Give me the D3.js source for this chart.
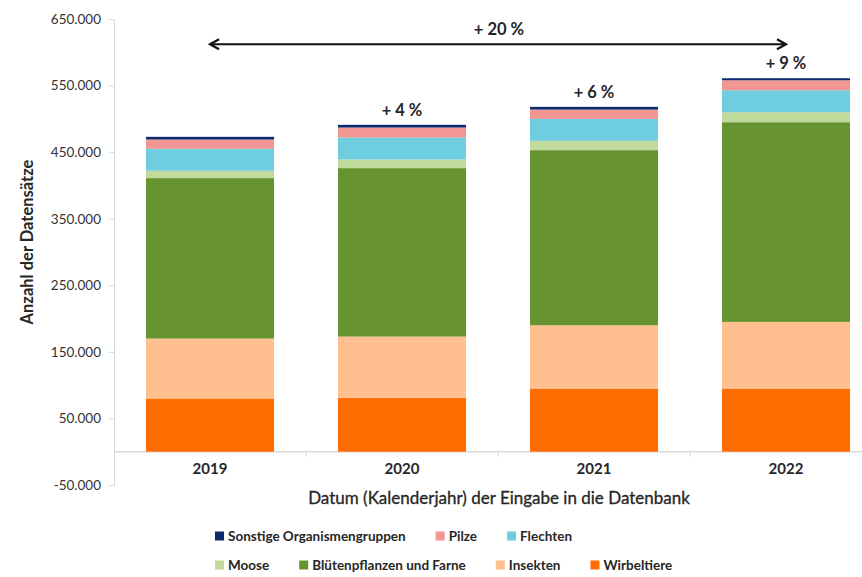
<!DOCTYPE html>
<html>
<head>
<meta charset="utf-8">
<script src="https://cdn.jsdelivr.net/npm/d3@7"></script>
<style>
  body { margin: 0; background: #fff; }
  svg { display: block; font-family: Lato, "Liberation Sans", sans-serif; }
</style>
</head>
<body>
<script>
'use strict';

// years on the x axis
const years = ['2019', '2020', '2021', '2022'];

// stack order, bottom to top
const groups = ['Wirbeltiere', 'Insekten', 'Blütenpflanzen und Farne', 'Moose',
  'Flechten', 'Pilze', 'Sonstige Organismengruppen'];

const wirbeltiere = [80000, 81000, 95000, 95000];
const insekten = [90000, 92000, 95000, 100000];
const bluetenpflanzen = [241000, 253000, 263000, 300000];
const moose = [11000, 13000, 14000, 15000];
const flechten = [33000, 33000, 33000, 33000];
const pilze = [14000, 15000, 14000, 15000];
const sonstige = [4000, 4000, 4000, 3000];

// change against the previous year, and over the whole period
const changes = ['', '+ 4 %', '+ 6 %', '+ 9 %'];
const totalChange = '+ 20 %';

const yTicks = [-50000, 50000, 150000, 250000, 350000, 450000, 550000, 650000];

// legend rows, as in the original
const legendRows = [
  ['Sonstige Organismengruppen', 'Pilze', 'Flechten'],
  ['Moose', 'Blütenpflanzen und Farne', 'Insekten', 'Wirbeltiere']
];

(function() {
  const colors = {
    'Wirbeltiere': '#ff6d00',
    'Insekten': '#ffbf8f',
    'Blütenpflanzen und Farne': '#679331',
    'Moose': '#bfda9a',
    'Flechten': '#6fcde0',
    'Pilze': '#f29694',
    'Sonstige Organismengruppen': '#0b2a6e'
  };
  const series = [wirbeltiere, insekten, bluetenpflanzen, moose, flechten, pilze, sonstige];

  let width = 862;
  let height = 577;
  let svgContainer = '';

  const de = d3.formatLocale({
    decimal: ',', thousands: '.', grouping: [3], currency: ['', ' €'], minus: '-'
  });

  window.onload = function() {
    svgContainer = d3.select('body')
      .append('svg')
      .attr('width', width)
      .attr('height', height);

    let rows = years.map(function(y, i) {
      let row = { year: y };
      groups.forEach(function(g, j) { row[g] = series[j][i]; });
      return row;
    });
    let stacked = d3.stack().keys(groups)(rows);

    let xScale = d3.scaleBand()
      .domain(years)
      .range([114, 882])
      .paddingInner(0.333)
      .paddingOuter(0.1665);

    let yScale = d3.scaleLinear()
      .domain([-50000, 650000])
      .range([485, 19]);

    drawAxes(xScale, yScale);
    drawBars(stacked, xScale, yScale);
    drawNotes(stacked, xScale, yScale);
    drawLegend();
  };

  function drawAxes(xScale, yScale) {
    let yAxis = d3.axisLeft(yScale)
      .tickValues(yTicks)
      .tickSize(5)
      .tickPadding(8)
      .tickFormat(de.format(',d'));

    let gy = svgContainer.append('g')
      .attr('transform', 'translate(114, 0)')
      .call(yAxis);
    gy.select('.domain').attr('stroke', '#d9d9d9');
    gy.selectAll('.tick line').attr('stroke', '#d9d9d9');
    gy.selectAll('.tick text')
      .attr('fill', '#333')
      .style('font-size', '13.5px')
      .style('font-family', 'Lato, sans-serif');

    // zero line with category ticks
    let xAxis = d3.axisBottom(xScale).tickSize(0).tickPadding(12);
    let gx = svgContainer.append('g')
      .attr('transform', 'translate(0, ' + yScale(0) + ')')
      .call(xAxis);
    gx.select('.domain').remove();
    gx.selectAll('.tick text')
      .attr('fill', '#262626')
      .style('font-size', '15px')
      .style('font-weight', 'bold')
      .style('font-family', 'Lato, sans-serif');

    svgContainer.append('line')
      .attr('x1', 114)
      .attr('x2', width)
      .attr('y1', yScale(0))
      .attr('y2', yScale(0))
      .attr('stroke', '#d9d9d9')
      .attr('stroke-width', 1.5);

    let step = xScale.step();
    years.slice(1).forEach(function(y) {
      let bx = xScale(y) - xScale.paddingInner() * step / 2;
      svgContainer.append('line')
        .attr('x1', bx).attr('x2', bx)
        .attr('y1', yScale(0)).attr('y2', yScale(0) + 5)
        .attr('stroke', '#d9d9d9');
    });

    svgContainer.append('text')
      .attr('transform', 'translate(33, ' + 242 + ')rotate(-90)')
      .attr('text-anchor', 'middle')
      .attr('fill', '#262626')
      .style('font-size', '16.5px')
      .style('font-weight', 'bold')
      .text('Anzahl der Datensätze');

    svgContainer.append('text')
      .attr('x', 499)
      .attr('y', 504)
      .attr('text-anchor', 'middle')
      .attr('fill', '#262626')
      .attr('stroke', '#262626')
      .attr('stroke-width', 0.3)
      .style('font-size', '17px')
      .text('Datum (Kalenderjahr) der Eingabe in die Datenbank');
  }

  function drawBars(stacked, xScale, yScale) {
    svgContainer.append('g')
      .selectAll('g')
      .data(stacked)
      .enter()
      .append('g')
        .attr('fill', function(d) { return colors[d.key]; })
      .selectAll('rect')
      .data(function(d) { return d; })
      .enter()
      .append('rect')
        .attr('x', function(d) { return xScale(d.data.year); })
        .attr('y', function(d) { return yScale(d[1]); })
        .attr('width', xScale.bandwidth())
        .attr('height', function(d) { return yScale(d[0]) - yScale(d[1]); });
  }

  function drawNotes(stacked, xScale, yScale) {
    let top = stacked[stacked.length - 1];
    let half = xScale.bandwidth() / 2;

    svgContainer.selectAll('.change')
      .data(years)
      .enter()
      .append('text')
        .attr('class', 'change')
        .attr('x', function(d) { return xScale(d) + half; })
        .attr('y', function(d, i) { return yScale(top[i][1]) - 9; })
        .attr('text-anchor', 'middle')
        .attr('fill', '#262626')
        .style('font-size', '16.5px')
        .style('font-weight', 'bold')
        .text(function(d, i) { return changes[i]; });

    // double arrow from first to last year
    let x1 = xScale(years[0]) + half;
    let x2 = xScale(years[years.length - 1]) + half;
    let ay = yScale(612000);
    svgContainer.append('line')
      .attr('x1', x1 + 2).attr('x2', x2 - 2)
      .attr('y1', ay).attr('y2', ay)
      .attr('stroke', '#111')
      .attr('stroke-width', 2);
    [[x1, 1], [x2, -1]].forEach(function(p) {
      svgContainer.append('path')
        .attr('d', 'M' + (p[0] + p[1] * 9) + ',' + (ay - 5) + 'L' + p[0] + ',' + ay +
          'L' + (p[0] + p[1] * 9) + ',' + (ay + 5))
        .attr('fill', 'none')
        .attr('stroke', '#111')
        .attr('stroke-width', 2.2);
    });

    svgContainer.append('text')
      .attr('x', (x1 + x2) / 2 + 1)
      .attr('y', ay - 9)
      .attr('text-anchor', 'middle')
      .attr('fill', '#262626')
      .style('font-size', '16.5px')
      .style('font-weight', 'bold')
      .text(totalChange);
  }

  function drawLegend() {
    legendRows.forEach(function(row, r) {
      let x = 215;
      let y = 536 + r * 29;
      row.forEach(function(name) {
        svgContainer.append('rect')
          .attr('x', x)
          .attr('y', y - 4.5)
          .attr('width', 9)
          .attr('height', 9)
          .attr('fill', colors[name]);
        let t = svgContainer.append('text')
          .attr('x', x + 13)
          .attr('y', y + 5)
          .attr('fill', '#262626')
          .style('font-size', '13.5px')
          .style('font-weight', 'bold')
          .text(name);
        x = x + 13 + t.node().getComputedTextLength() + 30;
      });
    });
  }

})();
</script>
</body>
</html>
